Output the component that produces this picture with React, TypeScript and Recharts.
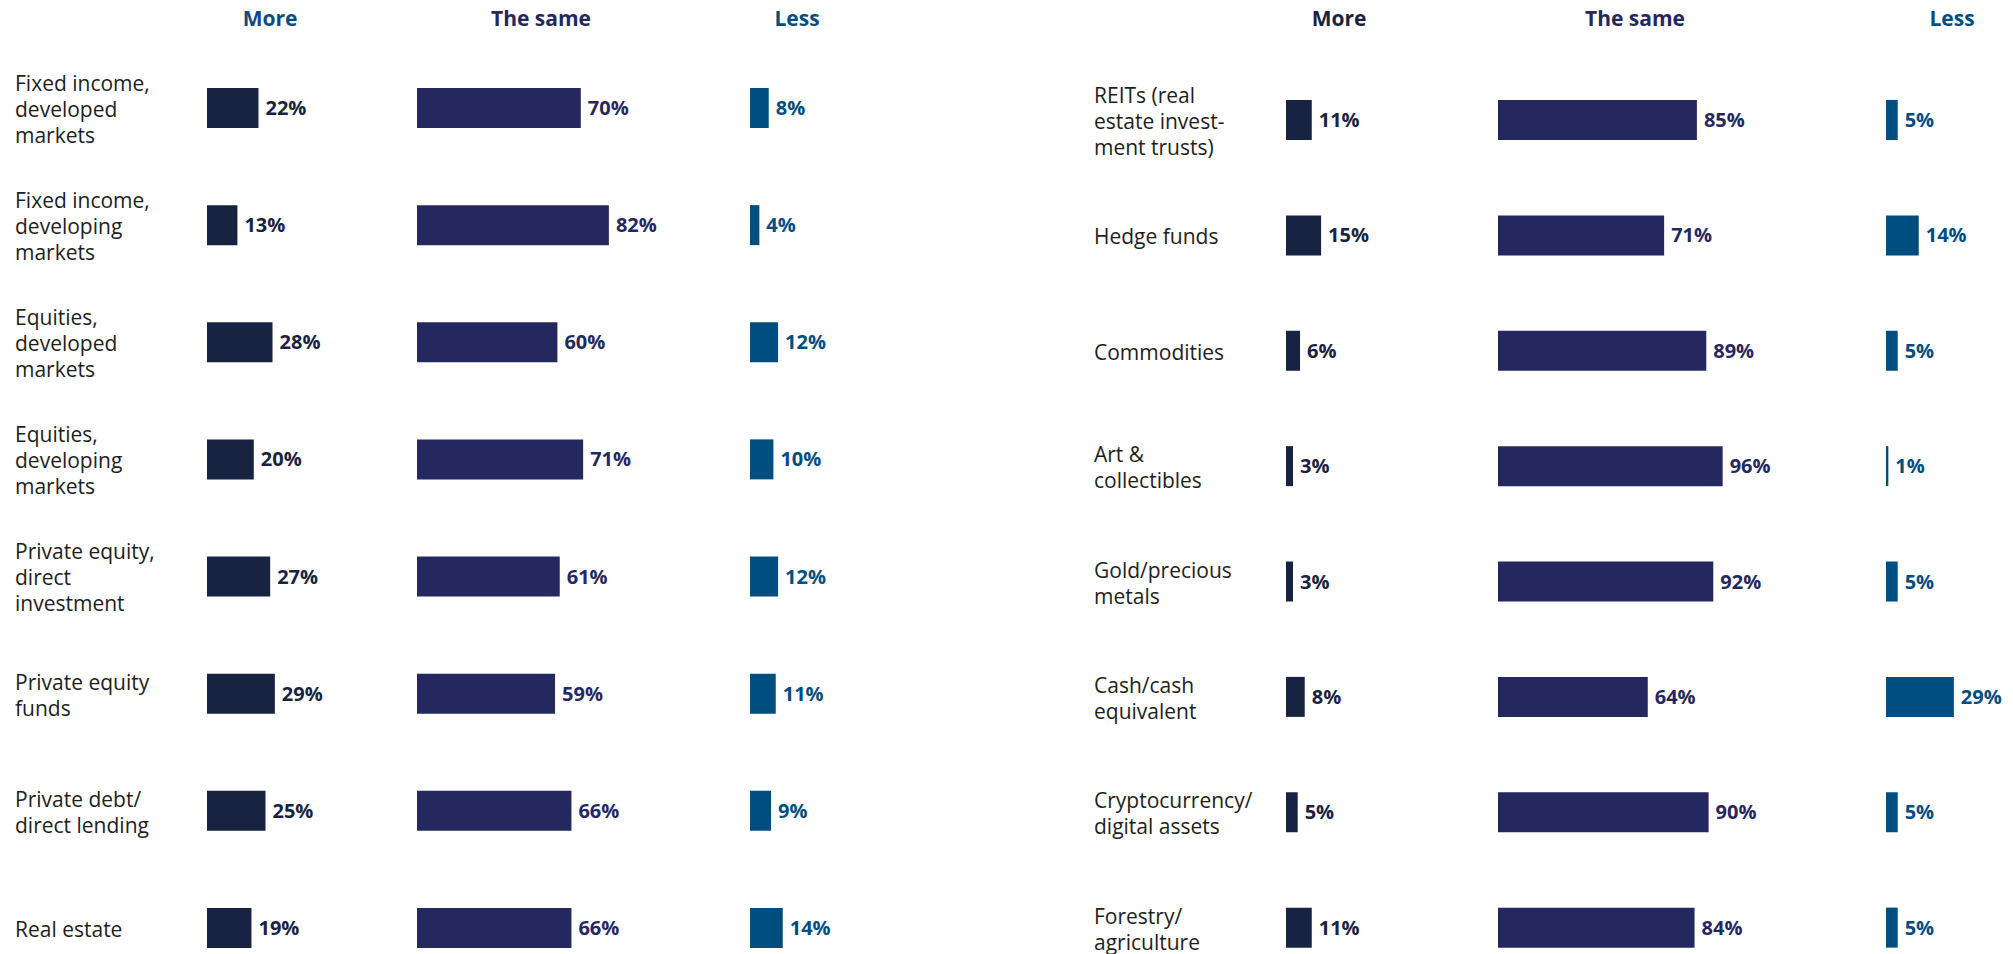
import { Bar, BarChart, LabelList, XAxis, YAxis } from "recharts";

const FONT = '"Open Sans", "Noto Sans", sans-serif';
const PX_PER_PCT = 2.34;

const MORE_COLOR = "#172341";
const SAME_COLOR = "#25285f";
const LESS_COLOR = "#004d80";
const LABEL_COLOR = "#1e1e1e";

const columnHeaders = ["More", "The same", "Less"];

const leftCategories = [
  "Fixed income,\ndeveloped\nmarkets",
  "Fixed income,\ndeveloping\nmarkets",
  "Equities,\ndeveloped\nmarkets",
  "Equities,\ndeveloping\nmarkets",
  "Private equity,\ndirect\ninvestment",
  "Private equity\nfunds",
  "Private debt/\ndirect lending",
  "Real estate",
];
const leftMore = [22, 13, 28, 20, 27, 29, 25, 19];
const leftSame = [70, 82, 60, 71, 61, 59, 66, 66];
const leftLess = [8, 4, 12, 10, 12, 11, 9, 14];

const rightCategories = [
  "REITs (real\nestate invest-\nment trusts)",
  "Hedge funds",
  "Commodities",
  "Art &\ncollectibles",
  "Gold/precious\nmetals",
  "Cash/cash\nequivalent",
  "Cryptocurrency/\ndigital assets",
  "Forestry/\nagriculture",
];
const rightMore = [11, 15, 6, 3, 3, 8, 5, 11];
const rightSame = [85, 71, 89, 96, 92, 64, 90, 84];
const rightLess = [5, 14, 5, 1, 5, 29, 5, 5];

type Column = { x: number; w: number };
type PanelLayout = {
  labelX: number;
  top: number;
  height: number;
  cols: Column[];
  headerX: number[];
  headerColors: string[];
};

const leftLayout: PanelLayout = {
  labelX: 15,
  top: 49,
  height: 937,
  cols: [
    { x: 207, w: 210 },
    { x: 417, w: 333 },
    { x: 750, w: 200 },
  ],
  headerX: [270, 541, 797],
  headerColors: ["#0d4a7d", SAME_COLOR, LESS_COLOR],
};

const rightLayout: PanelLayout = {
  labelX: 1094,
  top: 62,
  height: 923,
  cols: [
    { x: 1286, w: 212 },
    { x: 1498, w: 388 },
    { x: 1886, w: 127 },
  ],
  headerX: [1339, 1635, 1952],
  headerColors: [MORE_COLOR, SAME_COLOR, LESS_COLOR],
};

function CategoryTick({ y, payload }: any) {
  const lines = String(payload.value).split("\n");
  const lh = 26;
  const y0 = y + 2 - ((lines.length - 1) * lh) / 2;
  return (
    <text fill={LABEL_COLOR} fontSize={21} fontFamily={FONT}>
      {lines.map((l, i) => (
        <tspan key={i} x={0} y={y0 + i * lh} dy="0.35em">
          {l}
        </tspan>
      ))}
    </text>
  );
}

function Panel({
  categories,
  more,
  same,
  less,
  layout,
}: {
  categories: string[];
  more: number[];
  same: number[];
  less: number[];
  layout: PanelLayout;
}) {
  const rows = categories.map((name, i) => ({
    name,
    more: more[i],
    same: same[i],
    less: less[i],
  }));
  const series = [
    { key: "more", color: MORE_COLOR },
    { key: "same", color: SAME_COLOR },
    { key: "less", color: LESS_COLOR },
  ];
  return (
    <>
      {columnHeaders.map((h, i) => (
        <div
          key={h}
          style={{
            position: "absolute",
            left: layout.headerX[i],
            top: 8,
            lineHeight: "21px",
            transform: "translateX(-50%)",
            fontFamily: FONT,
            fontWeight: 700,
            fontSize: 21,
            color: layout.headerColors[i],
            whiteSpace: "nowrap",
          }}
        >
          {h}
        </div>
      ))}
      {series.map((s, i) => {
        const col = layout.cols[i];
        const axisW = i === 0 ? col.x - layout.labelX : 0;
        const left = i === 0 ? layout.labelX : col.x;
        return (
          <div key={s.key} style={{ position: "absolute", left, top: layout.top }}>
            <BarChart
              width={axisW + col.w}
              height={layout.height}
              data={rows}
              layout="vertical"
              margin={{ top: 0, right: 0, bottom: 0, left: 0 }}
            >
              <XAxis type="number" hide domain={[0, col.w / PX_PER_PCT]} allowDataOverflow />
              <YAxis
                type="category"
                dataKey="name"
                hide={i !== 0}
                width={axisW}
                axisLine={false}
                tickLine={false}
                interval={0}
                tick={<CategoryTick />}
              />
              <Bar dataKey={s.key} fill={s.color} barSize={40} isAnimationActive={false}>
                <LabelList
                  dataKey={s.key}
                  position="right"
                  offset={7}
                  formatter={(v: any) => `${v}%`}
                  fill={s.color}
                  fontSize={20}
                  fontWeight={700}
                  fontFamily={FONT}
                />
              </Bar>
            </BarChart>
          </div>
        );
      })}
    </>
  );
}

export default function App() {
  return (
    <div
      style={{
        position: "absolute",
        left: 0,
        top: 0,
        width: 2013,
        height: 954,
        overflow: "hidden",
        background: "#fff",
      }}
    >
      <Panel categories={leftCategories} more={leftMore} same={leftSame} less={leftLess} layout={leftLayout} />
      <Panel categories={rightCategories} more={rightMore} same={rightSame} less={rightLess} layout={rightLayout} />
    </div>
  );
}
